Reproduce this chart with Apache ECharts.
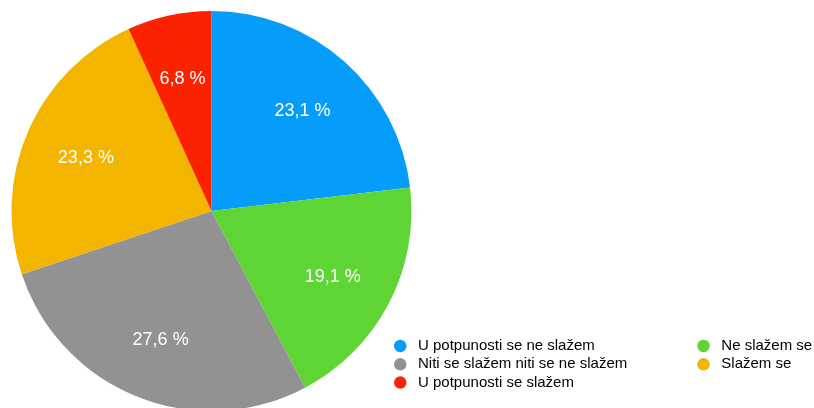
<!DOCTYPE html>
<html>
<head>
<meta charset="utf-8">
<script src="https://cdn.jsdelivr.net/npm/echarts@6/dist/echarts.min.js"></script>
<style>
  html, body { margin: 0; padding: 0; background: #fff; }
  #chart { width: 814px; height: 408px; }
</style>
</head>
<body>
<div id="chart"></div>
<script>
// answers, in drawing order (clockwise from 12 o'clock)
const categories = [
  'U potpunosti se ne slažem',
  'Ne slažem se',
  'Niti se slažem niti se ne slažem',
  'Slažem se',
  'U potpunosti se slažem'
];
const percents = [23.1, 19.1, 27.6, 23.3, 6.8];
const colors = ['#069dfa', '#5ed535', '#929292', '#f4b500', '#fb2200'];

const chart = echarts.init(document.getElementById('chart'));

const pieData = categories.map((name, i) => ({
  name,
  value: percents[i],
  itemStyle: { color: colors[i] }
}));

function fmtPct(v) {
  return v.toFixed(1).replace('.', ',') + ' %';
}

const option = {
  animation: false,
  backgroundColor: '#fff',
  textStyle: { fontFamily: 'Liberation Sans, Arial, sans-serif' },
  legend: {
    data: categories,
    left: 394,
    top: 338.5,
    width: 620,
    padding: 0,
    orient: 'horizontal',
    icon: 'circle',
    itemWidth: 12.5,
    itemHeight: 12.5,
    itemGap: 3.3,
    selectedMode: false,
    textStyle: {
      fontSize: 15,
      color: '#000',
      width: 276,
      lineHeight: 15,
      padding: [0, 0, 0, 6.5]
    }
  },
  series: [
    {
      type: 'pie',
      center: [211.5, 211],
      radius: 200,
      startAngle: 90,
      clockwise: true,
      label: { show: false },
      labelLine: { show: false },
      emphasis: { disabled: true },
      data: pieData
    },
    {
      // invisible ring used only to place the percent labels further out
      type: 'pie',
      center: [211.5, 213],
      radius: [118, 150],
      startAngle: 90,
      clockwise: true,
      silent: true,
      itemStyle: { color: 'rgba(0,0,0,0)' },
      emphasis: { disabled: true },
      label: {
        show: true,
        position: 'inside',
        color: '#fff',
        fontSize: 18,
        formatter: p => fmtPct(p.value)
      },
      labelLine: { show: false },
      data: pieData.map(d => ({ name: d.name, value: d.value, itemStyle: { color: 'rgba(0,0,0,0)' } }))
    }
  ]
};

chart.setOption(option);
</script>
</body>
</html>
